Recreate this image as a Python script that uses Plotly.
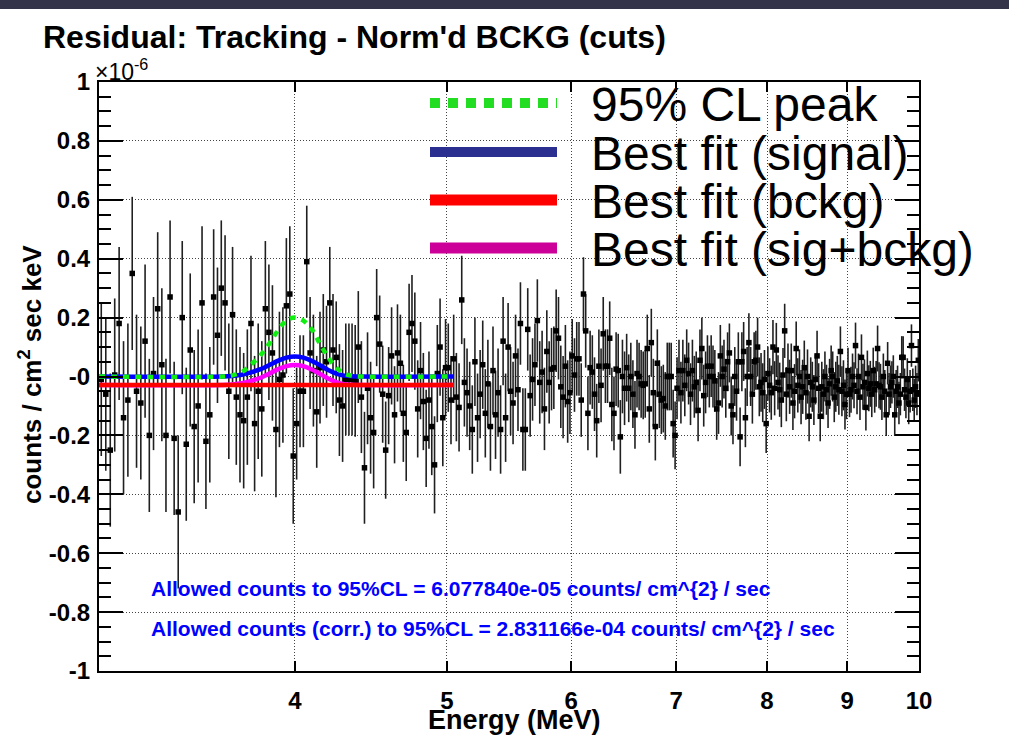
import math
import plotly.graph_objects as go

# ---------------- data ----------------
BIN_LOW = 3.0          # MeV, histogram lower edge
BIN_WIDTH = 0.02       # MeV
# residuals (x 1e-6 counts / cm^2 sec keV), one list per MeV
RESID_3_4 = [-0.01, -0.06, -0.25, 0.005, 0.18, -0.14, -0.08, 0.35, -0.05, -0.09,
             0.12, -0.20, 0.01, 0.23, 0.04, -0.20, 0.27, -0.21, -0.46, 0.20,
             -0.23, 0.09, -0.17, -0.10, 0.25, -0.22, -0.13, 0.27, 0.14, 0.30,
             0.25, -0.05, 0.21, -0.07, -0.13, -0.15, -0.07, 0.18, -0.16, -0.05,
             -0.11, 0.23, 0.15, 0.08, -0.18, -0.01, 0.005, 0.24, 0.28, -0.27]
RESID_4_5 = [-0.16, -0.05, -0.05, 0.39, 0.08, 0.02, -0.12, 0.03, 0.09, 0.05,
             0.25, 0.09, 0.065, -0.08, -0.10, -0.01, -0.01, -0.01, -0.015, 0.10,
             -0.07, -0.31, -0.04, -0.14, -0.19, 0.20, 0.11, -0.06, -0.25, -0.065,
             0.07, -0.13, 0.08, 0.045, -0.125, -0.19, 0.15, 0.18, 0.12, -0.11,
             0.02, -0.085, -0.21, -0.08, -0.17, -0.30, 0.01, 0.10, -0.14, 0.03]
RESID_5_6 = [0.03, -0.08, 0.06, -0.07, -0.105, 0.26, -0.02, -0.055, -0.10, -0.18,
             0.05, -0.14, -0.06, 0.04, -0.125, -0.025, -0.17, 0.02, -0.13, -0.055,
             -0.18, 0.12, -0.14, 0.10, -0.05, -0.09, 0.07, -0.045, 0.18, -0.18,
             -0.18, 0.16, -0.065, -0.01, 0.04, 0.19, -0.02, 0.015, -0.11, 0.085,
             -0.02, 0.025, 0.03, 0.155, 0.13, -0.035, -0.07, 0.035, -0.085, -0.055]
RESID_6_7 = [0.07, 0.005, 0.06, 0.06, -0.08, 0.28, 0.155, -0.125, 0.03, 0.015,
             -0.06, -0.15, 0.035, -0.03, 0.145, 0.035, 0.035, 0.13, -0.095, -0.125,
             0.025, 0.02, -0.205, 0.0, -0.04, 0.03, -0.04, 0.0, -0.06, -0.13,
             0.01, 0.0, -0.025, -0.03, -0.025, 0.095, -0.11, 0.115, -0.055, -0.17,
             0.045, -0.06, -0.08, -0.075, -0.10, 0.0, 0.0, 0.0, -0.16, -0.20]
RESID_7_8 = [-0.04, 0.02, -0.055, 0.02, -0.03, 0.055, 0.01, -0.06, 0.02, -0.035,
             -0.02, -0.115, 0.055, 0.095, -0.065, -0.02, 0.035, 0.0, 0.035, 0.0,
             -0.015, -0.11, -0.09, 0.07, 0.0, 0.025, -0.04, 0.05, 0.08, -0.10,
             -0.13, 0.0, -0.05, 0.05, -0.205, 0.05, 0.085, -0.14, 0.0, 0.115,
             0.0, -0.06, 0.05, 0.055, 0.10, -0.035, -0.02, -0.055, -0.01, -0.16]
RESID_8_9 = [0.01, -0.03, -0.055, 0.10, -0.04, 0.09, -0.02, -0.045, -0.08, 0.005,
             0.155, -0.06, 0.02, -0.035, 0.02, -0.09, -0.05, 0.095, -0.03, 0.0,
             -0.07, -0.035, 0.03, -0.055, 0.0, -0.135, -0.02, -0.035, -0.08, -0.01,
             0.07, -0.04, -0.135, -0.035, -0.06, 0.0, -0.045, -0.09, -0.025, 0.02,
             0.0, -0.07, -0.035, -0.015, -0.045, 0.085, -0.05, -0.03, -0.095, -0.06]
RESID_9_10 = [0.02, -0.06, -0.045, 0.0, -0.03, 0.105, -0.05, 0.0, -0.07, 0.065,
              -0.035, -0.02, -0.105, 0.01, -0.04, -0.025, -0.06, 0.02, -0.045, -0.025,
              0.095, -0.03, -0.035, -0.07, 0.0, -0.05, -0.13, 0.045, -0.06, -0.035,
              -0.02, 0.0, -0.13, -0.05, -0.035, -0.09, -0.06, 0.065, 0.065, -0.045,
              -0.07, -0.01, -0.09, -0.05, 0.105, -0.045, -0.08, -0.035, -0.06, 0.055]
# error-bar half size per half-MeV slice (3.0-3.5, 3.5-4.0, ... 9.5-10.0)
ERR_HALF_MEV = [0.26, 0.23, 0.19, 0.165, 0.15, 0.14, 0.125, 0.115, 0.105, 0.10,
                0.092, 0.085, 0.078, 0.072]

# fit curves
CURVE_E = [3.00, 3.60, 3.65, 3.70, 3.75, 3.80, 3.85, 3.90, 3.95, 4.00,
           4.05, 4.10, 4.15, 4.20, 4.25, 4.30, 4.35, 4.40, 5.05]
CL95_PEAK = [0.0, 0.0, 0.004, 0.015, 0.04, 0.07, 0.11, 0.155, 0.19, 0.20,
             0.19, 0.16, 0.11, 0.065, 0.03, 0.01, 0.002, 0.0, 0.0]
FIT_SIGNAL = [0.0, 0.0, 0.002, 0.006, 0.014, 0.024, 0.038, 0.053, 0.064, 0.068,
              0.064, 0.053, 0.038, 0.022, 0.01, 0.003, 0.001, 0.0, 0.0]
FIT_SIGBCKG = [-0.029, -0.029, -0.027, -0.023, -0.015, -0.005, 0.009, 0.024, 0.035, 0.039,
               0.035, 0.024, 0.009, -0.007, -0.019, -0.026, -0.028, -0.029, -0.029]
BCKG_E = [3.00, 5.05]
FIT_BCKG = [-0.029, -0.029]

X_TICKS = [4, 5, 6, 7, 8, 9, 10]
Y_TICKS = [-1, -0.8, -0.6, -0.4, -0.2, 0, 0.2, 0.4, 0.6, 0.8, 1]
Y_TICK_TEXT = ["-1", "-0.8", "-0.6", "-0.4", "-0.2", "-0", "0.2", "0.4", "0.6", "0.8", "1"]

LEGEND_TEXT = ["95% CL peak", "Best fit (signal)", "Best fit (bckg)", "Best fit (sig+bckg)"]
INFO_TEXT = ["Allowed counts to 95%CL = 6.077840e-05 counts/ cm^{2} / sec",
             "Allowed counts (corr.) to 95%CL = 2.831166e-04 counts/ cm^{2} / sec"]

# ---------------- build ----------------
resid = RESID_3_4 + RESID_4_5 + RESID_5_6 + RESID_6_7 + RESID_7_8 + RESID_8_9 + RESID_9_10
energy = [BIN_LOW + BIN_WIDTH * (i + 0.5) for i in range(len(resid))]
err = [ERR_HALF_MEV[min(int((e - BIN_LOW) / 0.5), len(ERR_HALF_MEV) - 1)] for e in energy]

FONT = "Liberation Sans, Arial, sans-serif"

# plot-area pixel geometry
L, R, T, B = 99, 919, 82, 671
W, H = 1009, 739


def PX(px):
    return (px - L) / (R - L)


def PY(py):
    return (B - py) / (B - T)


fig = go.Figure()
fig.add_trace(go.Scatter(
    x=energy, y=resid, mode="markers",
    marker=dict(symbol="square", size=5.5, color="black"),
    error_y=dict(type="data", array=err, thickness=1.6, width=0, color="#202020"),
    hoverinfo="skip"))
fig.add_trace(go.Scatter(x=CURVE_E, y=FIT_SIGNAL, mode="lines",
                         line=dict(color="#0000ff", width=4.5, shape="spline")))
fig.add_trace(go.Scatter(x=CURVE_E, y=CL95_PEAK, mode="lines",
                         line=dict(color="#11ee11", width=4.5, shape="spline", dash="6px,6px")))
fig.add_trace(go.Scatter(x=CURVE_E, y=FIT_SIGBCKG, mode="lines",
                         line=dict(color="#ff00ff", width=4.5, shape="spline")))
fig.add_trace(go.Scatter(x=BCKG_E, y=FIT_BCKG, mode="lines",
                         line=dict(color="#ff0000", width=4.5)))

axis_common = dict(
    showline=True, linecolor="black", linewidth=2, mirror="ticks",
    ticks="inside", tickcolor="black", tickwidth=1.5,
    showgrid=True, gridcolor="#444444", gridwidth=1, griddash="1px,2px",
    zeroline=False,
    tickfont=dict(family=FONT, size=24, color="black", weight="bold"),
)

fig.update_layout(
    width=W, height=H, autosize=False,
    margin=dict(l=L, r=W - R, t=T, b=H - B, pad=0),
    paper_bgcolor="white", plot_bgcolor="white",
    showlegend=False,
    xaxis=dict(type="log", range=[math.log10(3), 1],
               tickvals=X_TICKS, ticktext=[str(v) for v in X_TICKS],
               ticklen=10, ticklabelstandoff=7, **axis_common),
    yaxis=dict(range=[-1, 1], tickvals=Y_TICKS, ticktext=Y_TICK_TEXT,
               ticklen=24, ticklabelstandoff=2,
               minor=dict(dtick=0.05, ticks="inside", ticklen=12, tickcolor="black",
                          tickwidth=1.5, showgrid=False),
               **axis_common),
)

shapes = []
# dark strip on top of the slide
shapes.append(dict(type="rect", xref="paper", yref="paper", x0=PX(0), x1=PX(W),
                   y0=PY(9), y1=PY(0), fillcolor="#33334a", line=dict(width=0), layer="above"))
# legend samples
leg_y = [103, 152, 200, 248]
leg_style = [dict(color="#22dd22", width=10, dash="10px,8px"),
             dict(color="#2b2f8f", width=10),
             dict(color="#ff0000", width=11),
             dict(color="#cc0099", width=11)]
for y, st in zip(leg_y, leg_style):
    shapes.append(dict(type="line", xref="paper", yref="paper",
                       x0=PX(430), x1=PX(557), y0=PY(y), y1=PY(y),
                       line=st, layer="above"))
fig.update_layout(shapes=shapes)

ann = []
ann.append(dict(text="<b>Residual: Tracking - Norm'd BCKG (cuts)</b>", x=PX(41), y=PY(37),
                xref="paper", yref="paper", xanchor="left", yanchor="middle", showarrow=False,
                font=dict(family=FONT, size=32, color="black")))
ann.append(dict(text="×10<sup>-6</sup>", x=PX(93), y=PY(70),
                xref="paper", yref="paper", xanchor="left", yanchor="middle", showarrow=False,
                font=dict(family=FONT, size=23, color="black")))
ann.append(dict(text="<b>counts / cm<sup>2</sup> sec keV</b>", x=PX(30), y=PY(375),
                xref="paper", yref="paper", xanchor="center", yanchor="middle", showarrow=False,
                textangle=-90, font=dict(family=FONT, size=26, color="black")))
ann.append(dict(text="<b>Energy (MeV)</b>", x=PX(514), y=PY(720),
                xref="paper", yref="paper", xanchor="center", yanchor="middle", showarrow=False,
                font=dict(family=FONT, size=27, color="black")))
for y, t in zip([104, 153, 201, 249], LEGEND_TEXT):
    ann.append(dict(text=t, x=PX(589), y=PY(y), xref="paper", yref="paper",
                    xanchor="left", yanchor="middle", showarrow=False,
                    font=dict(family=FONT, size=48, color="black")))
for y, t in zip([588, 628], INFO_TEXT):
    ann.append(dict(text="<b>" + t + "</b>", x=PX(149), y=PY(y), xref="paper", yref="paper",
                    xanchor="left", yanchor="middle", showarrow=False,
                    font=dict(family=FONT, size=21, color="#0000ff")))
fig.update_layout(annotations=ann)

fig.write_html("out.html", config={"displayModeBar": False})
